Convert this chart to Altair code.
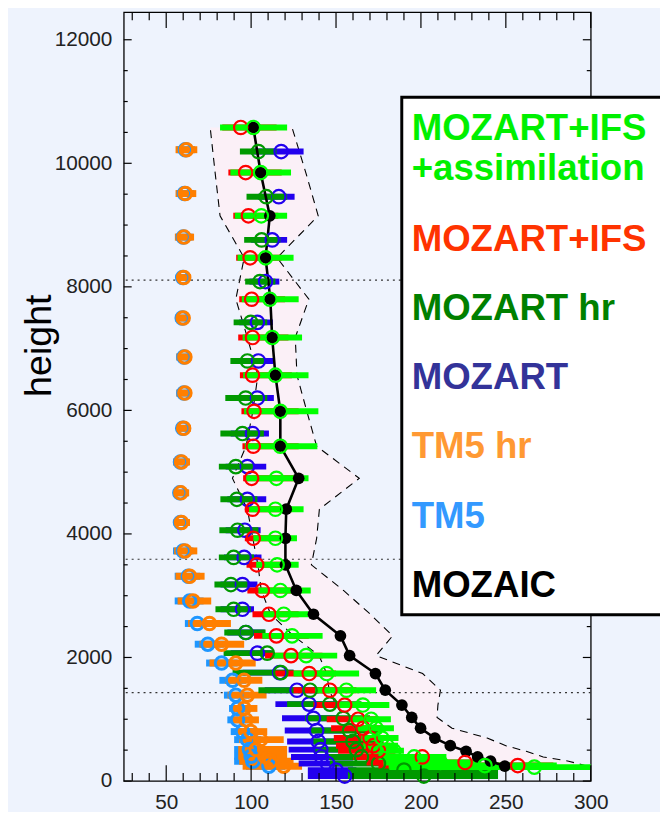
import altair as alt
import pandas as pd

# ---------------- data ----------------
# MOZAIC observations (mean profile and spread envelope)
MOZAIC_H = [10580, 9850, 9150, 8470, 7800, 7180, 6570, 5985, 5420, 4900, 4400, 3930, 3500, 3085,
            2700, 2350, 2030, 1740, 1470, 1230, 1030, 855, 695, 572, 481, 390, 321, 240]
MOZAIC_MEAN = [101.3, 105.6, 111.0, 108.5, 111.3, 112.4, 114.3, 117.2, 117.2, 128.0, 120.7, 120.2, 120.2, 126.6,
               136.7, 152.6, 158.0, 173.2, 179.0, 188.8, 194.6, 199.8, 208.2, 217.3, 226.6, 233.4, 241.0, 249.4]
ENV_LO = [75.9, 78.8, 81.7, 95.9, 91.0, 97.8, 104.0, 101.0, 97.0, 89.0, 97.8, 101.0, 104.0, 106.0,
          111.5, 125.0, 140.0, 144.5, 146.0, 150.0, 155.0, 160.0, 165.0, 170.0, 175.0, 180.0, 185.0, 190.0]
ENV_HI = [124.1, 132.2, 139.5, 115.3, 134.0, 126.0, 127.0, 132.8, 138.6, 163.7, 140.2, 138.6, 135.5, 154.4,
          170.2, 183.3, 173.6, 201.0, 211.5, 210.0, 209.5, 218.3, 239.0, 250.0, 262.0, 272.0, 287.0, 298.0]

# MOZART+IFS (red)
IFS_H = [10580, 9850, 9150, 8470, 7800, 7180, 6570, 5985, 5420, 4900, 4400, 3930, 3500, 3085,
         2700, 2350, 2030, 1740, 1470, 1230, 1000, 855, 695, 572, 490, 390, 300, 250]
IFS_MEAN = [93.9, 96.8, 98.4, 99.4, 100.3, 100.8, 100.8, 101.7, 101.3, 100.3, 100.8, 101.3, 103.3, 106.6,
            110.5, 114.9, 123.5, 134.2, 146.4, 155.1, 163.0, 166.0, 170.0, 172.0, 175.0, 200.8, 226.0, 257.0]
IFS_LO = [83.0, 86.6, 89.5, 91.2, 93.0, 92.4, 93.4, 94.3, 94.9, 95.3, 96.3, 96.3, 97.3, 97.8,
          100.8, 101.7, 108.2, 113.4, 125.0, 136.7, 144.5, 147.1, 148.7, 150.0, 151.2, 160.0, 168.0, 175.0]
IFS_HI = [115.0, 118.0, 116.0, 118.0, 120.0, 122.0, 124.0, 128.0, 128.0, 126.0, 124.0, 122.0, 122.0, 126.0,
          128.0, 134.0, 142.0, 150.0, 162.0, 172.0, 175.0, 178.0, 180.0, 182.0, 185.0, 210.0, 232.0, 278.0]

# MOZART+IFS+assimilation (bright green)
ASSIM_H = [10580, 9850, 9150, 8470, 7800, 7180, 6570, 5985, 5420, 4900, 4400, 3930, 3500, 3085,
           2700, 2350, 2030, 1740, 1470, 1230, 1000, 855, 695, 572, 490, 390, 300, 250, 225]
ASSIM_MEAN = [101.3, 105.6, 106.0, 108.5, 111.0, 112.4, 114.3, 117.2, 117.2, 114.9, 114.3, 114.3, 115.3, 117.2,
              119.2, 124.1, 132.4, 144.5, 156.1, 165.8, 170.7, 173.6, 177.0, 180.0, 184.0, 196.0, 211.5, 237.7, 266.8]
ASSIM_LO = [81.7, 87.8, 90.4, 92.0, 94.5, 95.0, 95.3, 95.9, 96.3, 96.5, 98.8, 101.3, 103.0, 104.3,
            106.6, 106.6, 113.4, 125.0, 137.7, 150.3, 158.1, 161.7, 164.9, 166.0, 169.6, 175.0, 178.0, 181.0, 181.4]
ASSIM_HI = [121.2, 123.5, 121.2, 125.0, 128.0, 130.0, 133.8, 139.6, 139.0, 133.8, 130.9, 127.0, 128.0, 135.1,
            133.8, 142.1, 150.7, 163.6, 173.6, 181.4, 182.3, 184.1, 186.8, 186.5, 190.0, 215.0, 235.0, 280.0, 300.0]

# MOZART and MOZART hr
MOZ_H = [10190, 9460, 8760, 8085, 7425, 6800, 6200, 5625, 5090, 4560, 4060, 3620, 3180, 2780,
         2405, 2070, 1755, 1470, 1245, 1015, 817, 641, 508, 390, 284, 176, 80]
MOZHR_MEAN = [104.3, 108.9, 106.2, 105.2, 99.8, 97.8, 96.8, 94.9, 91.0, 91.6, 92.0, 89.7, 88.1, 89.7,
              96.8, 109.5, 117.5, 134.7, 146.4, 154.2, 158.0, 160.0, 162.0, 165.0, 175.0, 190.0, 201.7]
MOZHR_LO = [93.4, 97.3, 95.9, 96.5, 89.7, 87.8, 84.8, 81.9, 81.0, 81.9, 81.3, 81.0, 78.4, 79.0,
            84.2, 83.8, 89.1, 104.3, 121.2, 131.8, 134.4, 136.7, 137.7, 144.5, 146.4, 157.0, 157.0]
MOZHR_HI = [114.9, 121.2, 117.2, 114.3, 109.5, 108.5, 109.5, 107.5, 101.7, 103.7, 104.3, 101.7, 97.8, 99.8,
            108.5, 113.4, 125.0, 145.0, 165.0, 170.0, 175.0, 178.0, 180.0, 185.0, 204.6, 245.4, 245.4]
MOZ_MEAN = [117.7, 116.3, 112.4, 108.5, 103.7, 104.3, 103.7, 100.8, 97.8, 97.8, 96.3, 95.9, 94.9, 94.9,
            97.0, 103.7, 116.8, 127.0, 134.1, 136.7, 138.6, 139.6, 141.0, 141.5, 145.0, 150.0, 155.1]
MOZ_LO = [100.0, 104.0, 100.0, 99.0, 93.0, 93.0, 92.0, 88.0, 85.0, 86.0, 85.0, 84.0, 82.0, 82.0,
          86.0, 88.0, 95.0, 108.0, 114.3, 118.2, 119.8, 121.2, 122.1, 123.5, 128.0, 133.4, 133.4]
MOZ_HI = [130.9, 125.6, 121.2, 116.6, 112.8, 113.0, 113.4, 110.5, 108.9, 108.9, 105.6, 106.1, 103.7, 101.7,
          108.0, 112.0, 125.0, 140.0, 150.0, 152.0, 155.0, 155.0, 157.0, 160.0, 160.0, 162.0, 158.1]

# TM5 and TM5 hr
TM5_H = [10220, 9510, 8805, 8150, 7495, 6865, 6280, 5710, 5165, 4665, 4185, 3725, 3315, 2915,
         2550, 2215, 1910, 1630, 1390, 1175, 990, 800, 670, 510, 400, 320, 240]
TM5HR_MEAN = [61.9, 61.3, 60.5, 60.3, 60.0, 61.0, 61.0, 60.3, 59.0, 58.6, 59.0, 61.0, 63.8, 65.8,
              75.5, 82.6, 91.0, 95.9, 97.8, 95.9, 97.0, 99.8, 105.6, 103.0, 108.0, 111.4, 119.2]
TM5HR_LO = [55.5, 55.5, 55.1, 56.0, 55.5, 56.0, 56.0, 56.0, 54.0, 54.0, 54.5, 54.7, 55.5, 56.7,
            62.9, 69.7, 75.5, 84.6, 86.2, 89.1, 88.1, 91.6, 93.0, 92.4, 92.4, 93.0, 95.0]
TM5HR_HI = [68.3, 67.7, 66.4, 64.5, 64.0, 65.0, 65.0, 64.5, 64.0, 63.5, 64.0, 68.3, 72.6, 76.5,
            88.1, 95.9, 102.7, 106.6, 109.1, 103.7, 104.6, 109.5, 119.2, 121.2, 121.2, 125.0, 130.0]
TM5_MEAN = [61.3, 60.7, 60.0, 59.7, 59.4, 60.4, 60.4, 59.7, 58.4, 58.0, 58.4, 60.0, 63.0, 63.8,
            68.3, 74.5, 82.6, 89.1, 91.0, 92.0, 92.0, 94.9, 97.8, 99.0, 100.0, 101.0, 110.5]
TM5_LO = [56.0, 56.0, 55.5, 56.0, 55.5, 56.0, 56.0, 56.0, 54.5, 54.0, 54.5, 54.0, 55.0, 55.0,
          61.0, 66.8, 73.5, 81.3, 84.0, 87.0, 86.0, 88.0, 90.0, 90.0, 90.0, 90.0, 97.0]
TM5_HI = [67.0, 66.5, 65.5, 63.5, 63.5, 64.5, 64.5, 64.0, 63.5, 63.0, 63.5, 66.0, 70.0, 72.0,
          78.0, 84.0, 92.0, 97.0, 99.0, 99.0, 99.0, 102.0, 106.0, 108.0, 110.0, 112.0, 120.0]

DOTTED_H = [8110, 3590, 1430]

X_LABELS = [50, 100, 150, 200, 250, 300]
Y_LABELS = [0, 2000, 4000, 6000, 8000, 10000, 12000]
X_MINOR = [v for v in range(30, 300, 10) if v % 50 != 0]
Y_MINOR = [v for v in range(500, 12500, 500) if v % 2000 != 0]

LEGEND_TEXT = ["MOZART+IFS", "+assimilation", "MOZART+IFS", "MOZART hr", "MOZART", "TM5 hr", "TM5", "MOZAIC"]
LEGEND_COLORS = ["#00F000", "#00F000", "#FF3300", "#008000", "#333399", "#FF9933", "#3399FF", "#000000"]

MODELS = ["TM5", "TM5 hr", "MOZART", "MOZART hr", "MOZART+IFS", "MOZART+IFS+assimilation"]
MODEL_COLORS = ["#1E96FF", "#FF7F00", "#2200EE", "#009900", "#FF0000", "#00FF00"]

# ---------------- layout / style ----------------
W, H = 472, 777
BG = "#EEF3FD"
PINK = "#FBF0F7"
FONT = "Liberation Sans"

xs = alt.Scale(domain=[25, 300], nice=False, zero=False)
ys = alt.Scale(domain=[0, 12445], nice=False, zero=False)
xaxis = alt.Axis(values=X_LABELS, ticks=False, tickSize=0, domain=False, grid=False, title=None,
                 labelFontSize=21, labelFont=FONT, labelColor="#222222", labelPadding=11,
                 labelFlush=False, format="d")
yaxis = alt.Axis(values=Y_LABELS, ticks=False, tickSize=0, domain=False, grid=False, title=None,
                 labelFontSize=21, labelFont=FONT, labelColor="#222222", labelPadding=12,
                 labelFlush=False, format="d")


def X(f):
    return alt.X(f, type="quantitative", scale=xs, axis=xaxis)


def Y(f):
    return alt.Y(f, type="quantitative", scale=ys, axis=yaxis)


# ---------------- tables ----------------
env = pd.DataFrame({"h": MOZAIC_H, "lo": ENV_LO, "hi": ENV_HI, "m": MOZAIC_MEAN})

series = [
    ("TM5", TM5_H, TM5_MEAN, TM5_LO, TM5_HI, 7, 160, 3.0),
    ("TM5 hr", TM5_H, TM5HR_MEAN, TM5HR_LO, TM5HR_HI, 7, 160, 3.0),
    ("MOZART", MOZ_H, MOZ_MEAN, MOZ_LO, MOZ_HI, 6, 185, 2.2),
    ("MOZART hr", MOZ_H, MOZHR_MEAN, MOZHR_LO, MOZHR_HI, 6, 185, 2.2),
    ("MOZART+IFS", IFS_H, IFS_MEAN, IFS_LO, IFS_HI, 6, 185, 2.2),
    ("MOZART+IFS+assimilation", ASSIM_H, ASSIM_MEAN, ASSIM_LO, ASSIM_HI, 6, 185, 2.2),
]
rows = []
for k, (name, hh, mm, lo, hi, bw, cs, sw) in enumerate(series):
    for i in range(len(hh)):
        rows.append({"model": name, "h": hh[i], "mean": mm[i], "lo": lo[i], "hi": hi[i],
                     "bw": bw, "cs": cs, "sw": sw, "k": k})
models = pd.DataFrame(rows)
color = alt.Color("model:N", scale=alt.Scale(domain=MODELS, range=MODEL_COLORS), legend=None)

# ---------------- layers ----------------
band = alt.Chart(env).mark_area(orient="horizontal", color=PINK, opacity=1).encode(
    y=Y("h"), x=X("lo"), x2="hi")
dash_lo = alt.Chart(env).mark_line(color="black", strokeWidth=1.1, strokeDash=[8, 6]).encode(
    y=Y("h"), x=X("lo"), order="h:Q")
dash_hi = alt.Chart(env).mark_line(color="black", strokeWidth=1.1, strokeDash=[8, 6]).encode(
    y=Y("h"), x=X("hi"), order="h:Q")
dotted = alt.Chart(pd.DataFrame({"h": DOTTED_H})).mark_rule(
    color="#333333", strokeWidth=1.2, strokeDash=[2, 4]).encode(y=Y("h"))

bars = alt.Chart(models).mark_rule(strokeCap="butt", opacity=1).encode(
    y=Y("h"), x=X("lo"), x2="hi", color=color, size=alt.Size("bw:Q", scale=None))
moz_line = alt.Chart(env).mark_line(color="black", strokeWidth=2.6).encode(
    y=Y("h"), x=X("m"), order="h:Q")
moz_pts = alt.Chart(env).mark_circle(color="black", opacity=1, size=140).encode(
    y=Y("h"), x=X("m"))
rings = alt.Chart(models).mark_point(shape="circle", filled=False, opacity=1).encode(
    y=Y("h"), x=X("mean"), color=color,
    size=alt.Size("cs:Q", scale=None), strokeWidth=alt.StrokeWidth("sw:Q", scale=None))

# inward frame ticks
def xticks(vals, length):
    d = pd.DataFrame({"v": vals})
    b = alt.Chart(d).mark_rule(color="black", strokeWidth=1.2).encode(
        x=X("v"), y=alt.value(H), y2=alt.value(H - length))
    t = alt.Chart(d).mark_rule(color="black", strokeWidth=1.2).encode(
        x=X("v"), y=alt.value(0), y2=alt.value(length))
    return [b, t]


def yticks(vals, length):
    d = pd.DataFrame({"v": vals})
    l = alt.Chart(d).mark_rule(color="black", strokeWidth=1.2).encode(
        y=Y("v"), x=alt.value(0), x2=alt.value(length))
    r = alt.Chart(d).mark_rule(color="black", strokeWidth=1.2).encode(
        y=Y("v"), x=alt.value(W), x2=alt.value(W - length))
    return [l, r]


ticks = xticks(X_LABELS, 16) + xticks(X_MINOR, 8) + yticks(Y_LABELS, 8) + yticks(Y_MINOR, 4)

# legend box (drawn over the plot, extending to the right edge)
box = alt.Chart(pd.DataFrame({"a": [0]})).mark_rect(fill="white", stroke="black", strokeWidth=3).encode(
    x=alt.value(281), x2=alt.value(544), y=alt.value(86), y2=alt.value(609))
legend_y = [129, 170] + [241 + 70 * i for i in range(6)]
legend_layers = []
for txt, col, py in zip(LEGEND_TEXT, LEGEND_COLORS, legend_y):
    legend_layers.append(
        alt.Chart(pd.DataFrame({"t": [txt]})).mark_text(
            align="left", baseline="alphabetic", font=FONT, fontSize=37, fontWeight="bold", color=col
        ).encode(text="t:N", x=alt.value(291), y=alt.value(py)))

ytitle = alt.Chart(pd.DataFrame({"t": ["height"]})).mark_text(
    angle=270, align="center", baseline="middle", font=FONT, fontSize=38, color="black"
).encode(text="t:N", x=alt.value(-85), y=alt.value(337))

chart = alt.layer(
    band, dash_lo, dash_hi, dotted, bars, moz_line, moz_pts, rings, *ticks, box, *legend_layers, ytitle
).properties(
    width=W, height=H,
    autosize=alt.AutoSizeParams(type="none"),
    padding={"left": 117, "top": 0, "right": 70, "bottom": 27},
    background=BG,
).configure_view(stroke="black", strokeWidth=1.3, fill=BG)

chart.save("out.html", embed_options={"renderer": "svg", "actions": False})
